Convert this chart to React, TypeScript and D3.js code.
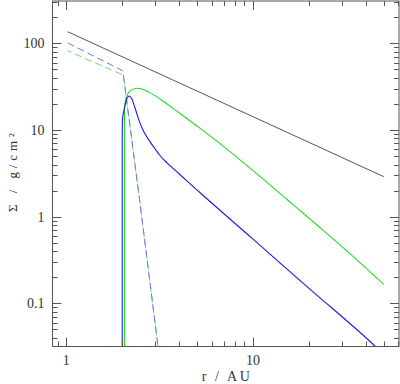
import React from "react";
import * as d3 from "d3";

// ---- data ----
const blackR = [1.02, 50];
const blackS = [136, 2.9];

const blueDashR = [1.02, 2.01, 2.47, 3.1, 3.15];
const blueDashS = [101, 48.3, 1.58, 0.032, 0.02];

const greenDashR = [1.02, 2.02, 2.47, 3.1, 3.15];
const greenDashS = [82, 43, 1.58, 0.032, 0.02];

// vertical rise (same r) followed by the smooth profile
const blueRiseR = [1.995, 1.995];
const blueRiseS = [0.02, 8];
const blueR = [1.995, 2.0, 2.05, 2.1, 2.18, 2.25, 2.32, 2.4, 2.47, 2.6, 2.79, 3.0, 3.16, 3.5, 3.88, 4.5, 5.19, 10, 20, 45, 48];
const blueS = [8, 13, 17.8, 22.2, 24.7, 22.6, 18.8, 15.0, 12.4, 9.6, 7.5, 6.0, 5.15, 4.1, 3.35, 2.5, 1.9, 0.55, 0.148, 0.032, 0.028];

const greenRiseR = [2.05, 2.05];
const greenRiseS = [0.02, 18];
const greenR = [2.05, 2.08, 2.18, 2.37, 2.57, 2.8, 3.16, 4.05, 5.19, 7, 10, 15.2, 22.8, 35, 50];
const greenS = [18, 22.2, 27.7, 30.3, 29.5, 27.0, 23.0, 15.6, 10.5, 6.4, 3.4, 1.58, 0.75, 0.335, 0.166];

const xMajor = [1, 10];
const xMinor = [0.9, 2, 3, 4, 5, 6, 7, 8, 9, 20, 30, 40, 50, 60];
const yMajor = [0.1, 1, 10, 100];
const yMinor = [0.04, 0.05, 0.06, 0.07, 0.08, 0.09, 0.2, 0.3, 0.4, 0.5, 0.6, 0.7, 0.8, 0.9, 2, 3, 4, 5, 6, 7, 8, 9, 20, 30, 40, 50, 60, 70, 80, 90, 200, 300];
const xTickLabels = ["1", "10"];
const yTickLabels = ["0.1", "1", "10", "100"];

const W = 400, H = 384;
const L = 52.5, R = 399, T = 1, B = 346.5;

export default function App() {
  const x = d3.scaleLog().domain([0.845, 60.4]).range([L, R]);
  const y = d3.scaleLog().domain([0.0318, 308]).range([B, T]);
  const mk = (rs: number[], ss: number[], curve: any) =>
    d3.line<number>()
      .x((i) => x(rs[i]))
      .y((i) => y(ss[i]))
      .curve(curve)(rs.map((_, i) => i)) || "";
  const lin = (rs: number[], ss: number[]) => mk(rs, ss, d3.curveLinear);
  const smooth = (rs: number[], ss: number[]) => mk(rs, ss, d3.curveMonotoneX);

  const font = "'Liberation Serif', 'Times New Roman', serif";
  const frame = "#555";
  const px = (v: number) => Math.round(v) + 0.5;

  return (
    <svg width={W} height={H} style={{ position: "fixed", left: 0, top: 0, background: "#fff" }}>
      <defs>
        <clipPath id="plot">
          <rect x={L} y={T} width={R - L} height={B - T} />
        </clipPath>
      </defs>
      <rect x={0} y={0} width={W} height={H} fill="#fff" />
      <g clipPath="url(#plot)" fill="none">
        <path d={lin(blackR, blackS)} stroke="#555" strokeWidth={1} />
        <path d={lin(greenDashR, greenDashS)} stroke="#66e066" strokeWidth={1} strokeDasharray="7,4" strokeDashoffset={3} />
        <path d={lin(blueDashR, blueDashS)} stroke="#7070ff" strokeWidth={1} strokeDasharray="7,4" />
        <path d={lin(greenRiseR, greenRiseS) + smooth(greenR, greenS).replace(/^M/, "L")} stroke="#1ee01e" strokeWidth={1.1} />
        <path d={lin(blueRiseR, blueRiseS) + smooth(blueR, blueS).replace(/^M/, "L")} stroke="#1a1ae8" strokeWidth={1.1} />
      </g>
      {/* frame */}
      <rect x={L} y={T} width={R - L} height={B - T} fill="none" stroke={frame} strokeWidth={1} />
      {/* ticks */}
      <g stroke={frame} strokeWidth={1}>
        {xMajor.map((v) => (
          <g key={"xM" + v}>
            <line x1={px(x(v))} x2={px(x(v))} y1={B} y2={B - 9} />
            <line x1={px(x(v))} x2={px(x(v))} y1={T} y2={T + 9} />
          </g>
        ))}
        {xMinor.map((v) => (
          <g key={"xm" + v}>
            <line x1={px(x(v))} x2={px(x(v))} y1={B} y2={B - 5} />
            <line x1={px(x(v))} x2={px(x(v))} y1={T} y2={T + 5} />
          </g>
        ))}
        {yMajor.map((v) => (
          <g key={"yM" + v}>
            <line x1={L} x2={L + 9} y1={px(y(v))} y2={px(y(v))} />
            <line x1={R} x2={R - 9} y1={px(y(v))} y2={px(y(v))} />
          </g>
        ))}
        {yMinor.map((v) => (
          <g key={"ym" + v}>
            <line x1={L} x2={L + 5} y1={px(y(v))} y2={px(y(v))} />
            <line x1={R} x2={R - 5} y1={px(y(v))} y2={px(y(v))} />
          </g>
        ))}
      </g>
      {/* tick labels */}
      <g fontFamily={font} fontSize={14} fill="#333">
        {xMajor.map((v, i) => (
          <text key={"xl" + v} x={x(v)} y={365} textAnchor="middle">{xTickLabels[i]}</text>
        ))}
        {yMajor.map((v, i) => (
          <text key={"yl" + v} x={44.5} y={y(v) + 5} textAnchor="end">{yTickLabels[i]}</text>
        ))}
        <text x={(L + R) / 2} y={381} textAnchor="middle" textLength={48} lengthAdjust="spacing">r / AU</text>
        <text transform="translate(17,172.5) rotate(-90)" textAnchor="middle" fontSize={13} textLength={79} lengthAdjust="spacing">Σ / g/cm²</text>
      </g>
    </svg>
  );
}
